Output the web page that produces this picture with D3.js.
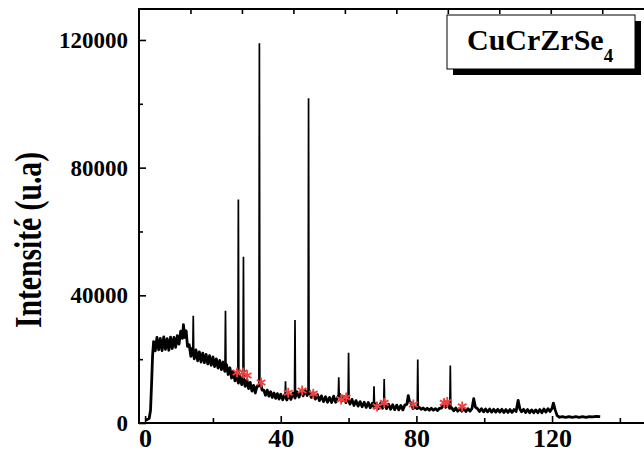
<!DOCTYPE html>
<html>
  <head>
    <meta charset="utf-8">
    <script src="https://d3js.org/d3.v7.min.js"></script>
    <title>XRD CuCrZrSe4</title>
    <style>
      body { margin: 0px; background: #fff; }
      svg { display: block; }
      .tick text {
        font-family: "Liberation Serif", "Times New Roman", serif;
        font-weight: bold;
        font-size: 23px;
        fill: #000;
      }
      .x-axis .tick text { font-size: 26px; }
      .tick line { stroke: #000; stroke-width: 1.6; }
      .axis-label {
        font-family: "Liberation Serif", "Times New Roman", serif;
        font-weight: bold;
        font-size: 38px;
        fill: #000;
      }
      .legend-label {
        font-family: "Liberation Serif", "Times New Roman", serif;
        font-weight: bold;
        font-size: 30px;
        fill: #000;
      }
    </style>
  </head>
  <body>
    <svg width="644" height="454"></svg>
    <script>
      // scan background, [2theta, intensity]
      const background = [
        [0.0, 900], [0.6, 1100], [1.2, 1400], [1.6, 4000], [1.9, 12000], [2.2, 21000],
        [2.5, 25500], [3.0, 22600], [3.5, 26800], [4.0, 22900], [4.5, 26500], [5.0, 22700],
        [5.5, 27000], [6.0, 23100], [6.5, 26400], [7.0, 22800], [7.5, 26900], [8.0, 23300],
        [8.5, 26800], [9.0, 23700], [9.5, 27400], [10.0, 24700], [10.5, 28800], [11.0, 26500],
        [11.3, 30800], [11.7, 26800], [12.1, 28900], [12.5, 24000], [13.0, 24500], [13.5, 20900],
        [14.0, 23500], [14.5, 20100], [15.0, 22900], [15.5, 19500], [16.0, 22300], [16.5, 19100],
        [17.0, 21900], [17.5, 18900], [18.0, 21500], [18.5, 18500], [19.0, 21100], [19.5, 18100],
        [20.0, 20700], [20.5, 17700], [21.0, 20100], [21.5, 17200], [22.0, 19600], [22.5, 16700],
        [23.0, 19100], [23.5, 16200], [24.0, 18300], [24.5, 15200], [25.0, 17300], [25.5, 14100],
        [26.0, 16200], [26.5, 13200], [27.0, 15300], [27.5, 12500], [28.0, 14700], [28.5, 12000],
        [29.0, 14200], [29.5, 11500], [30.0, 13600], [30.5, 10800], [31.0, 12700], [31.5, 10000],
        [32.0, 11800], [32.5, 9400], [33.0, 11500], [33.5, 11600], [34.0, 12800], [34.5, 10300],
        [35.0, 10300], [35.5, 8700], [36.0, 10300], [36.5, 8400], [37.0, 9800], [37.5, 8000],
        [38.0, 9400], [38.5, 7700], [39.0, 9200], [39.5, 7500], [40.0, 9000], [40.6, 7300],
        [41.2, 8900], [41.8, 7200], [42.4, 9000], [43.0, 7400], [43.6, 9400], [44.2, 7800],
        [44.8, 9800], [45.4, 8100], [46.0, 10200], [46.6, 8500], [47.2, 10300], [47.8, 8600],
        [48.4, 10100], [49.0, 8000], [49.6, 9500], [50.2, 7500], [50.8, 8900], [51.4, 7000],
        [52.0, 8500], [52.6, 6700], [53.2, 8200], [53.8, 6500], [54.4, 8000], [55.0, 6400],
        [55.6, 8400], [56.2, 6500], [56.8, 8100], [57.4, 9000], [58.0, 6900], [58.6, 8300],
        [59.2, 6400], [59.8, 7800], [60.4, 5900], [61.0, 7400], [61.6, 5500], [62.2, 7000],
        [62.8, 5300], [63.4, 6700], [64.0, 5100], [64.6, 6500], [65.2, 4900], [65.8, 6400],
        [66.4, 4800], [67.0, 6200], [67.6, 4700], [68.2, 6100], [68.8, 4500], [69.4, 6100],
        [70.0, 4600], [70.6, 6100], [71.2, 4500], [71.8, 5900], [72.4, 4300], [73.0, 5700],
        [73.6, 4200], [74.2, 5600], [74.8, 4100], [75.4, 5500], [76.0, 4100], [76.6, 5600],
        [77.2, 5900], [77.6, 8600], [78.0, 6600], [78.5, 6300], [79.0, 4500], [79.6, 5100],
        [80.2, 4500], [80.8, 4900], [81.4, 4300], [82.0, 4700], [82.6, 4100], [83.2, 4600],
        [83.8, 4000], [84.4, 4600], [85.0, 4000], [85.6, 4500], [86.2, 3900], [86.8, 4600],
        [87.4, 4700], [88.0, 5800], [88.6, 4900], [89.2, 5900], [89.8, 4600], [90.4, 4800],
        [91.0, 3800], [91.6, 4700], [92.2, 3700], [92.8, 4600], [93.4, 3700], [94.0, 4700],
        [94.6, 3600], [95.2, 4500], [95.8, 3700], [96.4, 4600], [96.9, 7600], [97.4, 5000],
        [98.0, 4500], [98.6, 3600], [99.2, 4500], [99.8, 3500], [100.4, 4400], [101.0, 3500],
        [101.6, 4400], [102.2, 3400], [102.8, 4300], [103.4, 3400], [104.0, 4300], [104.6, 3400],
        [105.2, 4300], [105.8, 3300], [106.4, 4200], [107.0, 3300], [107.6, 4200], [108.2, 3300],
        [108.8, 4200], [109.4, 3600], [110.0, 7100], [110.5, 4500], [111.0, 3500], [111.6, 4300],
        [112.2, 3300], [112.8, 4200], [113.4, 3200], [114.0, 4100], [114.6, 3200], [115.2, 4100],
        [115.8, 3200], [116.4, 4200], [117.0, 3200], [117.6, 4400], [118.2, 3400], [118.8, 4500],
        [119.4, 3600], [120.0, 4600], [120.4, 6200], [120.9, 4200], [121.5, 2300], [122.2, 1800],
        [123.0, 2000], [124.0, 1800], [125.0, 2000], [126.0, 1800], [127.0, 2000], [128.0, 1800],
        [129.0, 2000], [130.0, 1800], [131.0, 2000], [132.0, 1900], [133.0, 2100], [134.2, 2000]
      ];

      // sharp reflections: [2theta, top intensity, base intensity]
      const peaks = [
        [14.2, 33600, 21500], [23.7, 35200, 17000], [27.5, 70000, 13500], [29.0, 52100, 13000],
        [33.7, 119000, 11200], [41.4, 13100, 8000], [44.2, 32300, 8600], [48.2, 101700, 9200],
        [57.1, 14300, 8000], [60.0, 22000, 7000], [67.5, 11500, 5400], [70.5, 13800, 5500],
        [80.4, 19900, 4800], [90.0, 18000, 4600]
      ];

      // red star markers: [2theta, intensity]
      const stars = [
        [27.1, 15800], [28.9, 15800], [30.1, 14900], [34.2, 12700], [42.2, 9500],
        [46.3, 10200], [49.6, 9200], [57.8, 7400], [59.3, 8000], [68.4, 5200],
        [70.5, 6300], [79.1, 5800], [88.2, 6300], [89.1, 6600], [93.5, 5200]
      ];

      const xMajor = [0, 40, 80, 120];
      const xMinor = [20, 60, 100, 140];
      const yMajor = [0, 40000, 80000, 120000];
      const yMinor = [20000, 60000, 100000];
      const yLabel = 'Intensité (u.a)';

      const svg = d3.select('svg');
      const frame = { left: 139, right: 647, top: 9, bottom: 423 };

      const xScale = d3.scaleLinear()
        .domain([-1.8, 148])
        .range([frame.left, frame.right]);
      const yScale = d3.scaleLinear()
        .domain([0, 129700])
        .range([frame.bottom, frame.top]);
      // top axis of the frame carries its own unlabelled scale
      const topScale = d3.scaleLinear()
        .domain([0, 9.87])
        .range([frame.left, frame.right]);

      // axes (ticks point inward)
      svg.append('g')
        .attr('class', 'x-axis')
        .attr('transform', `translate(0, ${frame.bottom})`)
        .call(d3.axisBottom(xScale).tickValues(xMajor).tickSize(-7).tickPadding(6).tickSizeOuter(0))
        .call(g => g.select('.domain').remove());
      svg.append('g')
        .attr('transform', `translate(0, ${frame.bottom})`)
        .call(d3.axisBottom(xScale).tickValues(xMinor).tickSize(-5).tickFormat('').tickSizeOuter(0))
        .call(g => g.select('.domain').remove());
      svg.append('g')
        .attr('transform', `translate(${frame.left}, 0)`)
        .call(d3.axisLeft(yScale).tickValues(yMajor).tickSize(-7).tickPadding(11).tickFormat(d3.format('d')))
        .call(g => g.select('.domain').remove());
      svg.append('g')
        .attr('transform', `translate(${frame.left}, 0)`)
        .call(d3.axisLeft(yScale).tickValues(yMinor).tickSize(-4).tickFormat(''))
        .call(g => g.select('.domain').remove());
      svg.append('g')
        .attr('transform', `translate(0, ${frame.top})`)
        .call(d3.axisTop(topScale).tickValues(d3.range(1, 10)).tickSize(-5).tickFormat(''))
        .call(g => g.select('.domain').remove());

      // frame
      svg.append('path')
        .attr('d', `M${frame.right},${frame.top}H${frame.left}V${frame.bottom}H${frame.right}`)
        .attr('fill', 'none')
        .attr('stroke', '#000')
        .attr('stroke-width', 2);

      // y label, squeezed to the length it has in the figure
      svg.append('text')
        .attr('class', 'axis-label')
        .attr('transform', 'translate(41, 240) rotate(-90)')
        .attr('text-anchor', 'middle')
        .attr('textLength', 176)
        .attr('lengthAdjust', 'spacingAndGlyphs')
        .text(yLabel);

      // pattern
      const line = d3.line()
        .x(d => xScale(d[0]))
        .y(d => yScale(d[1]));
      svg.append('path')
        .datum(background)
        .attr('d', line)
        .attr('fill', 'none')
        .attr('stroke', '#000')
        .attr('stroke-width', 2.8)
        .attr('stroke-linejoin', 'round');

      svg.selectAll('.peak').data(peaks)
        .enter().append('path')
          .attr('class', 'peak')
          .attr('d', d => line([[d[0] - 0.15, d[2]], [d[0], d[1]], [d[0] + 0.15, d[2]]]))
          .attr('fill', 'none')
          .attr('stroke', '#000')
          .attr('stroke-width', 1.7);

      svg.selectAll('.star').data(stars)
        .enter().append('path')
          .attr('class', 'star')
          .attr('transform', d => `translate(${xScale(d[0])}, ${yScale(d[1])})`)
          .attr('d', d3.symbol(d3.symbolAsterisk, 70))
          .attr('fill', 'none')
          .attr('stroke', '#f04040')
          .attr('stroke-width', 1.8);

      // legend box with shadow
      const legend = svg.append('g').attr('transform', 'translate(447, 15)');
      legend.append('rect')
        .attr('x', 6).attr('y', 6)
        .attr('width', 188).attr('height', 54)
        .attr('fill', '#000');
      legend.append('rect')
        .attr('width', 188).attr('height', 54)
        .attr('fill', '#fff')
        .attr('stroke', '#000')
        .attr('stroke-width', 1);
      const legendText = legend.append('text')
        .attr('class', 'legend-label')
        .attr('x', 20)
        .attr('y', 35);
      legendText.append('tspan').text('CuCrZrSe');
      legendText.append('tspan')
        .attr('dy', 12)
        .attr('font-size', 19)
        .text('4');
    </script>
  </body>
</html>
